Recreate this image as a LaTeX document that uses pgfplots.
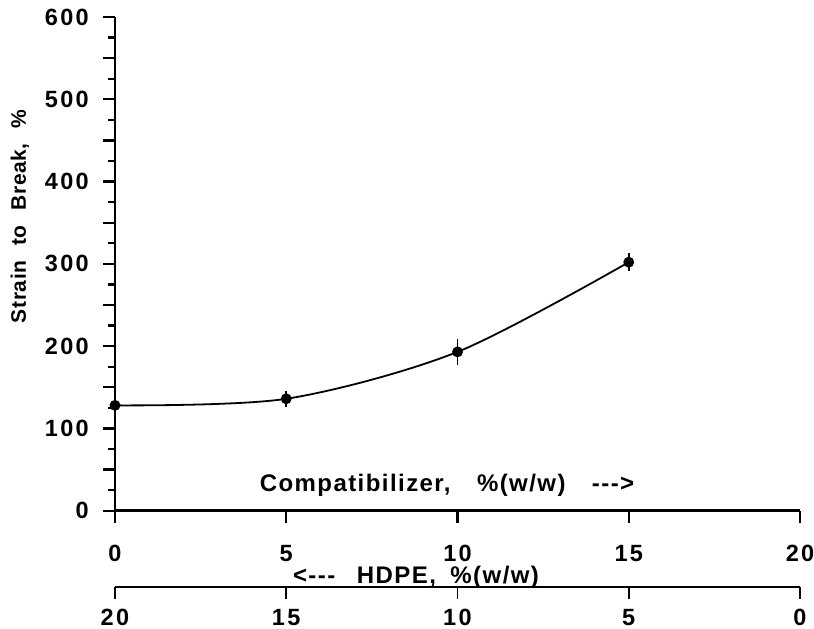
\documentclass[border=0pt]{standalone}
\usepackage{fontspec}
\setmainfont{Liberation Sans}
\newfontfamily\widefont{Liberation Sans}[LetterSpace=10]
\newfontfamily\midfont{Liberation Sans}[LetterSpace=6]
\newfontfamily\yfont{Liberation Sans}[LetterSpace=3]
\usepackage{pgfplots}
\pgfplotsset{compat=1.18}
\newcommand\lbl{\midfont\fontsize{24}{28}\selectfont\bfseries}
\newcommand\tlbl{\widefont\fontsize{23.5}{26}\selectfont\bfseries}
\newcommand\ylbl{\yfont\fontsize{21}{24}\selectfont\bfseries}

\begin{document}
\begin{tikzpicture}
\path[use as bounding box] (-115pt,-118.3pt) rectangle (699pt,510.7pt);
\begin{axis}[
  at={(0,0)}, anchor=south west,
  scale only axis, width=685pt, height=493.7pt,
  xmin=0, xmax=20, ymin=0, ymax=600,
  axis x line*=bottom, axis y line*=left,
  axis line style={line width=2.6pt},
  xtick={0,5,...,20}, ytick={0,100,...,600},
  minor ytick={25,75,...,575},
  extra y ticks={50,150,...,550}, extra y tick labels={},
  tick align=outside,
  major tick length=12pt, minor tick length=7pt,
  tick style={line width=2.2pt,black},
  ticklabel style={font=\tlbl, inner sep=0pt},
  /pgf/number format/assume math mode=true,
  xticklabel style={yshift=-22pt},
  yticklabel style={xshift=-14pt},
  ylabel={Strain\hspace{0.7em}to\hspace{0.7em}Break,\hspace{0.7em}\%},
  ylabel style={font=\ylbl, at={(axis description cs:-0.139,0.596)}, anchor=center},
  clip=false,
]
\addplot[black, line width=1.8pt, smooth, mark=*, mark size=4.5pt,
  error bars/.cd, y dir=both, y explicit, error mark=none,
  error bar style={line width=1.8pt}]
  coordinates {(0,128) +- (0,0) (5,136) +- (0,10) (10,193) +- (0,16) (15,302) +- (0,11)};
\end{axis}
\begin{axis}[
  at={(0,-76pt)}, anchor=south west,
  scale only axis, width=685pt, height=20pt,
  xmin=0, xmax=20, ymin=0, ymax=1, x dir=reverse,
  axis x line*=bottom, hide y axis,
  axis line style={line width=1.6pt},
  xtick={0,5,...,20}, tick align=outside, major tick length=12pt,
  tick style={line width=1.6pt,black},
  ticklabel style={font=\tlbl, inner sep=0pt},
  /pgf/number format/assume math mode=true,
  xticklabel style={yshift=-10pt},
]
\end{axis}
\node[font=\lbl] at (332pt,25pt) {Compatibilizer,\hspace{1.1em}\%(w/w)\hspace{1.1em}-{}-{}->};
\node[font=\lbl] at (301pt,-67pt) {<-{}-{}-\hspace{0.9em}HDPE,\hspace{0.6em}\%(w/w)};
\end{tikzpicture}
\end{document}
